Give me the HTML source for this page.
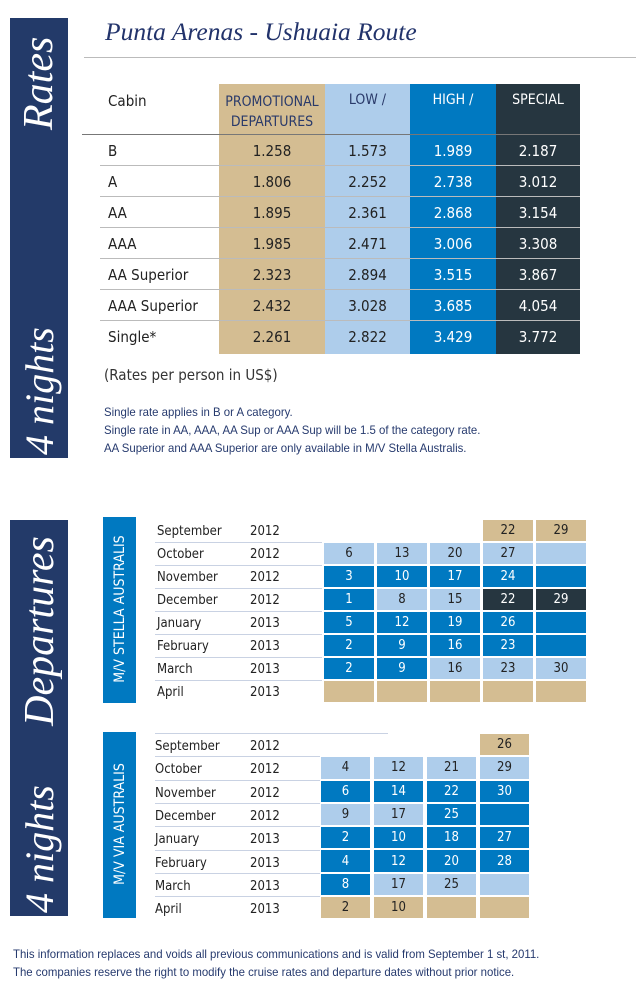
<!DOCTYPE html>
<html><head><meta charset="utf-8"><style>
body{margin:0;width:644px;height:1000px;background:#fff;position:relative;overflow:hidden;font-family:"DejaVu Sans Condensed","Liberation Sans",sans-serif;}
.a{position:absolute}
.side{position:absolute;left:10px;width:58px;background:#233a69;}
.vt{position:absolute;color:#fff;font-family:"Liberation Serif",serif;font-style:italic;white-space:nowrap;transform:rotate(-90deg);transform-origin:center;}
.col{position:absolute;top:84px;height:270px}
.num{position:absolute;width:100%;text-align:center;font-size:15px}
.hl{position:absolute;left:100px;width:480px;height:1px;background:#bbb}
.g{position:absolute;display:grid;row-gap:2px}
.g div{display:flex;align-items:center;justify-content:center;font-size:13px;color:#222}
.T{background:#d4bd92}.L{background:#aecdeb}.B{background:#0079c1;color:#fff!important}.D{background:#263640;color:#fff!important}
.m{position:absolute;font-size:13px;color:#222}
.ml{position:absolute;height:1px;background:#c9d2e3}
.note{position:absolute;left:104px;font-size:12px;color:#263a6e;font-family:"Liberation Sans",sans-serif;transform:scaleX(0.95);transform-origin:left top;white-space:nowrap}
.box{position:absolute;left:103px;width:33px;background:#0079c1}
.bt{position:absolute;color:#fff;font-size:14px;white-space:nowrap;transform:rotate(-90deg)}
</style></head><body>
<div class="side" style="top:18px;height:440px"></div>
<div class="vt" style="left:-6px;top:64px;width:90px;text-align:center;font-size:42px;line-height:42px">Rates</div>
<div class="vt" style="left:-23px;top:372px;width:126px;text-align:center;font-size:40px;line-height:40px">4 nights</div>

<div class="a" style="left:105px;top:17px;font-family:'Liberation Serif',serif;font-style:italic;font-size:25.5px;color:#22336b">Punta Arenas - Ushuaia Route</div>
<div class="a" style="left:84px;top:57px;width:552px;height:1px;background:#bbb"></div>

<div class="col" style="left:219px;width:106px;background:#d4bd92"></div>
<div class="col" style="left:325px;width:85px;background:#aecdeb"></div>
<div class="col" style="left:410px;width:86px;background:#0079c1"></div>
<div class="col" style="left:496px;width:84px;background:#263640"></div>
<div class="a" style="left:108px;top:92px;font-size:15px;color:#222">Cabin</div>
<div class="a" style="left:219px;top:92px;width:106px;text-align:center;font-size:14px;line-height:20px;color:#2a3a6a">PROMOTIONAL<br>DEPARTURES</div>
<div class="a" style="left:325px;top:92px;width:85px;text-align:center;font-size:14px;color:#2a3a6a">LOW /</div>
<div class="a" style="left:410px;top:92px;width:86px;text-align:center;font-size:14px;color:#fff">HIGH /</div>
<div class="a" style="left:496px;top:92px;width:84px;text-align:center;font-size:14px;color:#fff">SPECIAL</div>

<div class="hl" style="left:82px;width:498px;top:134px;background:#777"></div>
<div class="hl" style="top:165px"></div><div class="hl" style="top:196px"></div><div class="hl" style="top:227px"></div><div class="hl" style="top:258px"></div><div class="hl" style="top:289px"></div><div class="hl" style="top:320px"></div>

<div class="a" style="left:0;top:142px;width:644px;font-size:15px;color:#222">
<div class="a" style="left:108px;top:0">B</div><div class="a" style="left:108px;top:31px">A</div><div class="a" style="left:108px;top:62px">AA</div><div class="a" style="left:108px;top:93px">AAA</div><div class="a" style="left:108px;top:124px">AA Superior</div><div class="a" style="left:108px;top:155px">AAA Superior</div><div class="a" style="left:108px;top:186px">Single*</div>
</div>
<div class="a" style="left:219px;top:142px;width:106px;color:#222">
<div class="num" style="top:0">1.258</div><div class="num" style="top:31px">1.806</div><div class="num" style="top:62px">1.895</div><div class="num" style="top:93px">1.985</div><div class="num" style="top:124px">2.323</div><div class="num" style="top:155px">2.432</div><div class="num" style="top:186px">2.261</div></div>
<div class="a" style="left:325px;top:142px;width:85px;color:#222">
<div class="num" style="top:0">1.573</div><div class="num" style="top:31px">2.252</div><div class="num" style="top:62px">2.361</div><div class="num" style="top:93px">2.471</div><div class="num" style="top:124px">2.894</div><div class="num" style="top:155px">3.028</div><div class="num" style="top:186px">2.822</div></div>
<div class="a" style="left:410px;top:142px;width:86px;color:#fff">
<div class="num" style="top:0">1.989</div><div class="num" style="top:31px">2.738</div><div class="num" style="top:62px">2.868</div><div class="num" style="top:93px">3.006</div><div class="num" style="top:124px">3.515</div><div class="num" style="top:155px">3.685</div><div class="num" style="top:186px">3.429</div></div>
<div class="a" style="left:496px;top:142px;width:84px;color:#fff">
<div class="num" style="top:0">2.187</div><div class="num" style="top:31px">3.012</div><div class="num" style="top:62px">3.154</div><div class="num" style="top:93px">3.308</div><div class="num" style="top:124px">3.867</div><div class="num" style="top:155px">4.054</div><div class="num" style="top:186px">3.772</div></div>

<div class="a" style="left:104px;top:366px;font-size:15px;color:#333">(Rates per person in US$)</div>
<div class="note" style="top:405px">Single rate applies in B or A category.</div>
<div class="note" style="top:423px">Single rate in AA, AAA, AA Sup or AAA Sup will be 1.5 of the category rate.</div>
<div class="note" style="top:441px">AA Superior and AAA Superior are only available in M/V Stella Australis.</div>

<div class="side" style="top:520px;height:396px"></div>
<div class="vt" style="left:-60px;top:610px;width:200px;text-align:center;font-size:42px;line-height:42px">Departures</div>
<div class="vt" style="left:-23px;top:830px;width:126px;text-align:center;font-size:40px;line-height:40px">4 nights</div>

<div class="box" style="top:517px;height:186px"></div>
<div class="bt" style="left:40px;top:601px;width:160px;text-align:center">M/V STELLA AUSTRALIS</div>
<div class="box" style="top:732px;height:186px"></div>
<div class="bt" style="left:40px;top:816px;width:160px;text-align:center">M/V VIA AUSTRALIS</div>

<div class="m" style="left:157px;top:524px">September</div><div class="m" style="left:250px;top:524px">2012</div>
<div class="m" style="left:157px;top:547px">October</div><div class="m" style="left:250px;top:547px">2012</div>
<div class="m" style="left:157px;top:570px">November</div><div class="m" style="left:250px;top:570px">2012</div>
<div class="m" style="left:157px;top:593px">December</div><div class="m" style="left:250px;top:593px">2012</div>
<div class="m" style="left:157px;top:616px">January</div><div class="m" style="left:250px;top:616px">2013</div>
<div class="m" style="left:157px;top:639px">February</div><div class="m" style="left:250px;top:639px">2013</div>
<div class="m" style="left:157px;top:662px">March</div><div class="m" style="left:250px;top:662px">2013</div>
<div class="m" style="left:157px;top:685px">April</div><div class="m" style="left:250px;top:685px">2013</div>
<div class="ml" style="left:155px;width:167px;top:542px"></div><div class="ml" style="left:155px;width:167px;top:565px"></div><div class="ml" style="left:155px;width:167px;top:588px"></div><div class="ml" style="left:155px;width:167px;top:611px"></div><div class="ml" style="left:155px;width:167px;top:634px"></div><div class="ml" style="left:155px;width:167px;top:657px"></div><div class="ml" style="left:155px;width:167px;top:680px"></div>

<div class="g" style="left:324px;top:520px;grid-template-columns:repeat(5,50px);column-gap:3px;grid-auto-rows:21px">
<div></div><div></div><div></div><div class="T">22</div><div class="T">29</div>
<div class="L">6</div><div class="L">13</div><div class="L">20</div><div class="L">27</div><div class="L"></div>
<div class="B">3</div><div class="B">10</div><div class="B">17</div><div class="B">24</div><div class="B"></div>
<div class="B">1</div><div class="L">8</div><div class="L">15</div><div class="D">22</div><div class="D">29</div>
<div class="B">5</div><div class="B">12</div><div class="B">19</div><div class="B">26</div><div class="B"></div>
<div class="B">2</div><div class="B">9</div><div class="B">16</div><div class="B">23</div><div class="B"></div>
<div class="B">2</div><div class="B">9</div><div class="L">16</div><div class="L">23</div><div class="L">30</div>
<div class="T"></div><div class="T"></div><div class="T"></div><div class="T"></div><div class="T"></div>
</div>

<div class="ml" style="left:155px;width:233px;top:733px"></div>
<div class="m" style="left:155px;top:739px">September</div><div class="m" style="left:250px;top:739px">2012</div>
<div class="m" style="left:155px;top:762px">October</div><div class="m" style="left:250px;top:762px">2012</div>
<div class="m" style="left:155px;top:786px">November</div><div class="m" style="left:250px;top:786px">2012</div>
<div class="m" style="left:155px;top:809px">December</div><div class="m" style="left:250px;top:809px">2012</div>
<div class="m" style="left:155px;top:832px">January</div><div class="m" style="left:250px;top:832px">2013</div>
<div class="m" style="left:155px;top:856px">February</div><div class="m" style="left:250px;top:856px">2013</div>
<div class="m" style="left:155px;top:879px">March</div><div class="m" style="left:250px;top:879px">2013</div>
<div class="m" style="left:155px;top:902px">April</div><div class="m" style="left:250px;top:902px">2013</div>
<div class="ml" style="left:155px;width:165px;top:756px"></div><div class="ml" style="left:155px;width:165px;top:780px"></div><div class="ml" style="left:155px;width:165px;top:803px"></div><div class="ml" style="left:155px;width:165px;top:826px"></div><div class="ml" style="left:155px;width:165px;top:850px"></div><div class="ml" style="left:155px;width:165px;top:873px"></div><div class="ml" style="left:155px;width:165px;top:896px"></div>

<div class="g" style="left:321px;top:734px;grid-template-columns:repeat(4,49px);column-gap:4px;grid-auto-rows:21.3px">
<div></div><div></div><div></div><div class="T">26</div>
<div class="L">4</div><div class="L">12</div><div class="L">21</div><div class="L">29</div>
<div class="B">6</div><div class="B">14</div><div class="B">22</div><div class="B">30</div>
<div class="L">9</div><div class="L">17</div><div class="B">25</div><div class="B"></div>
<div class="B">2</div><div class="B">10</div><div class="B">18</div><div class="B">27</div>
<div class="B">4</div><div class="B">12</div><div class="B">20</div><div class="B">28</div>
<div class="B">8</div><div class="L">17</div><div class="L">25</div><div class="L"></div>
<div class="T">2</div><div class="T">10</div><div class="T"></div><div class="T"></div>
</div>

<div class="note" style="left:13px;top:947px">This information replaces and voids all previous communications and is valid from September 1 st, 2011.</div>
<div class="note" style="left:13px;top:965px">The companies reserve the right to modify the cruise rates and departure dates without prior notice.</div>
</body></html>
